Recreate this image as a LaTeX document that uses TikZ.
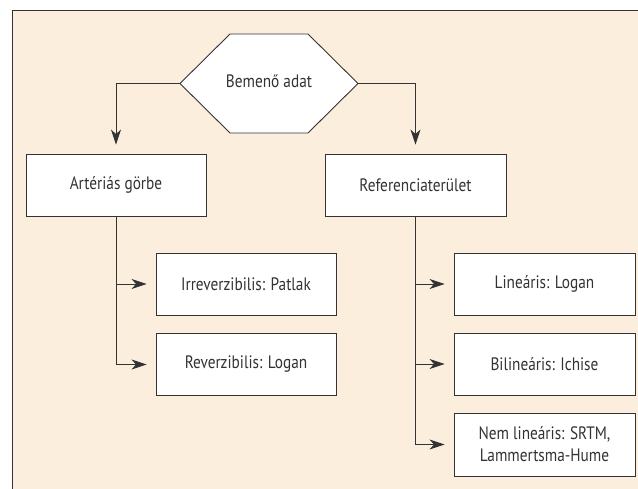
\documentclass[tikz,border=0pt]{standalone}
\usepackage{fontspec}
\setmainfont{PT Sans}[FakeStretch=0.85]
\usetikzlibrary{arrows.meta}
\definecolor{panel}{HTML}{FCEEDD}
\definecolor{ink}{HTML}{333333}
\begin{document}
\begin{tikzpicture}[x=1pt,y=-1pt,
  box/.style={draw=ink, line width=0.9pt, fill=white, minimum width=180pt, minimum height=62pt, inner sep=2pt, font=\fontsize{18}{22}\selectfont, text=ink, align=center},
  conn/.style={draw=ink, line width=0.9pt, -{Stealth[length=15pt,width=10pt,inset=4.5pt]}, shorten >=9pt},
  lbl/.style={font=\fontsize{18}{22}\selectfont, text=ink}]
\useasboundingbox (0,0) rectangle (638,489);
\fill[panel] (12,11) rectangle (638,489);
\draw[ink, line width=1pt] (12,489) -- (12,11) -- (638,11);
% hexagon
\draw[ink, line width=0.9pt, fill=white] (180,83.5) -- (230,34) -- (308,34) -- (358,83.5) -- (308,133) -- (230,133) -- cycle;
\node[lbl] (hex) at (269,81) {Bemenő adat};
\coordinate (hexL) at (180,83.5);
\coordinate (hexR) at (358,83.5);
% boxes
\node[box] (art) at (116,185) {Artériás görbe};
\node[box, minimum width=181pt] (ref) at (415.5,185) {Referenciaterület};
\node[box] (irr) at (246,284) {Irreverzibilis: Patlak};
\node[box] (rev) at (246,364.5) {Reverzibilis: Logan};
\node[box, minimum width=181pt] (lin) at (544.5,284) {Lineáris: Logan};
\node[box, minimum width=181pt] (bil) at (544.5,364) {Bilineáris: Ichise};
\node[box, minimum width=181pt, minimum height=63pt] (nem) at (544.5,444.5) {Nem lineáris: SRTM,\\Lammertsma-Hume};
% connectors
\draw[conn] (hexL) -| (art.north);
\draw[conn] (hexR) -| (ref.north);
\draw[conn] (art.south) |- (irr.west);
\draw[conn] (art.south) |- (rev.west);
\draw[conn] (ref.south) |- (lin.west);
\draw[conn] (ref.south) |- (bil.west);
\draw[conn] (ref.south) |- (nem.west);
\end{tikzpicture}
\end{document}
